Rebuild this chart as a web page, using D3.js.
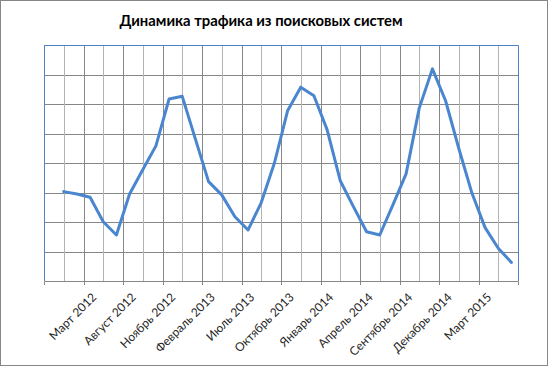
<!DOCTYPE html>
<html>
<head>
<meta charset="utf-8">
<script src="https://cdn.jsdelivr.net/npm/d3@7"></script>
<style>
  body { margin: 0; background: #fff; }
  svg { display: block; }
</style>
</head>
<body>
<div id="chart"></div>
<script>
// Chart title
const title = "Динамика трафика из поисковых систем";

// Traffic values per month (first slot is empty in the source chart)
const values = [null, 3.03, 2.95, 2.84, 2.01, 1.56, 2.95, 3.77, 4.58, 6.17, 6.26,
  4.81, 3.37, 2.92, 2.18, 1.73, 2.66, 4.0, 5.77, 6.57, 6.28, 5.13, 3.40, 2.52,
  1.67, 1.56, 2.58, 3.63, 5.86, 7.19, 6.11, 4.50, 2.98, 1.81, 1.11, 0.63];

// Labels shown on every third category
const tickLabels = ["Март 2012", "Август 2012", "Ноябрь 2012", "Февраль 2013",
  "Июль 2013", "Октябрь 2013", "Январь 2014", "Апрель 2014", "Сентябрь 2014",
  "Декабрь 2014", "Март 2015"];
const labelStep = 3;

// SVG dimensions
const width = 550;
const height = 367;
const plot = { left: 44, right: 518, top: 45, bottom: 281 };

const svg = d3
  .select("#chart")
  .append("svg")
  .attr("width", width)
  .attr("height", height);

// Outer chart border
svg.append("rect")
  .attr("x", 0.5).attr("y", 0.5)
  .attr("width", 547).attr("height", 365)
  .attr("fill", "#fff")
  .attr("stroke", "#878787");

// Scales
const cats = d3.range(values.length);
const x = d3.scaleBand().domain(cats).range([plot.left, plot.right]).padding(0);
const y = d3.scaleLinear().domain([0, 8]).range([plot.bottom, plot.top]);
const cx = (i) => x(i) + x.bandwidth() / 2;

// Horizontal gridlines
svg.append("g")
  .selectAll("line")
  .data(y.ticks(8).slice(1))
  .join("line")
  .attr("x1", plot.left).attr("x2", plot.right)
  .attr("y1", (d) => Math.round(y(d)) + 0.5)
  .attr("y2", (d) => Math.round(y(d)) + 0.5)
  .attr("stroke", "#878787");

// Minor vertical gridlines (middle category of each group)
svg.append("g")
  .selectAll("line")
  .data(cats.filter((i) => i % labelStep === 1))
  .join("line")
  .attr("x1", (i) => Math.round(cx(i)) + 0.5)
  .attr("x2", (i) => Math.round(cx(i)) + 0.5)
  .attr("y1", plot.top).attr("y2", plot.bottom)
  .attr("stroke", "#b4b4b4");

// Major vertical gridlines (group boundaries)
const bounds = cats.filter((i) => i % labelStep === 0 && i > 0);
svg.append("g")
  .selectAll("line")
  .data(bounds)
  .join("line")
  .attr("x1", (i) => Math.round(x(i)) + 0.5)
  .attr("x2", (i) => Math.round(x(i)) + 0.5)
  .attr("y1", plot.top).attr("y2", plot.bottom + 4)
  .attr("stroke", "#878787");

// Plot area border: blue on top, left and right
svg.append("path")
  .attr("d", `M${plot.left + 0.5},${plot.bottom}V${plot.top + 0.5}H${plot.right + 0.5}V${plot.bottom}`)
  .attr("fill", "none")
  .attr("stroke", "#4f81c7");

// Category axis line and end ticks
svg.append("path")
  .attr("d", `M${plot.left + 0.5},${plot.bottom + 4}V${plot.bottom + 0.5}H${plot.right + 0.5}V${plot.bottom + 4}`)
  .attr("fill", "none")
  .attr("stroke", "#878787");

// Tick labels
svg.append("g")
  .selectAll("text")
  .data(tickLabels)
  .join("text")
  .attr("transform", (d, k) => `translate(${cx((k + 1) * labelStep) + 7},298) rotate(-45)`)
  .attr("text-anchor", "end")
  .attr("font-family", "Lato, 'Noto Sans', sans-serif")
  .attr("font-size", 12)
  .attr("fill", "#262626")
  .text((d) => d);

// Line
const line = d3.line()
  .defined((d) => d != null)
  .x((d, i) => cx(i))
  .y((d) => y(d));

svg.append("path")
  .datum(values)
  .attr("d", line)
  .attr("fill", "none")
  .attr("stroke", "#4a86d0")
  .attr("stroke-width", 3)
  .attr("stroke-linejoin", "round")
  .attr("stroke-linecap", "round");

// Title
svg.append("text")
  .attr("x", 261)
  .attr("y", 26)
  .attr("text-anchor", "middle")
  .attr("font-family", "Lato, 'Noto Sans', sans-serif")
  .attr("font-weight", "bold")
  .attr("font-size", 14.8)
  .attr("fill", "#000")
  .text(title);
</script>
</body>
</html>
